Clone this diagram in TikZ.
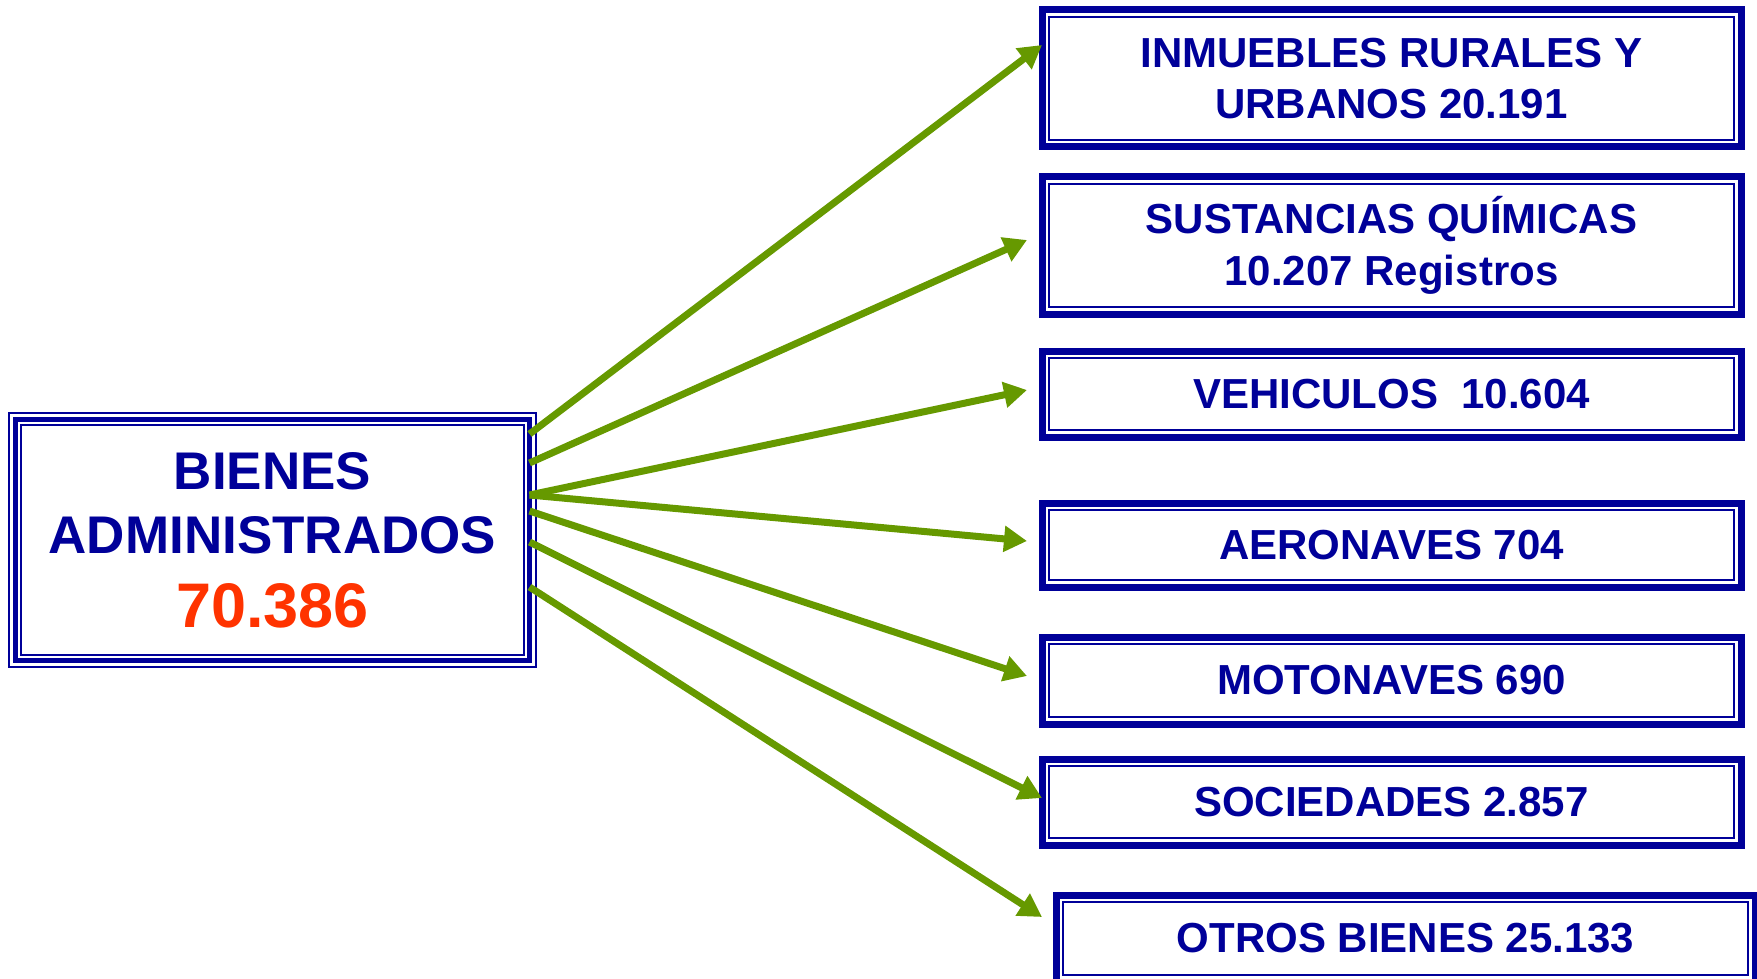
\documentclass[tikz,border=0pt]{standalone}
\usepackage{fontspec}
\setmainfont{Liberation Sans}
\usetikzlibrary{arrows.meta}
\definecolor{navy}{RGB}{0,0,153}
\definecolor{numred}{RGB}{255,51,0}
\definecolor{arrgreen}{RGB}{102,153,0}
\begin{document}
\begin{tikzpicture}[x=1pt,y=-1pt,
  rbox/.style={draw=navy, line width=7pt, outer sep=0pt, minimum width=699pt, inner sep=0pt, align=center, text=navy, font=\fontsize{42}{51.5}\selectfont\bfseries},
  thinl/.style={draw=navy, line width=2pt},
  lbox/.style={draw=navy, line width=5pt, outer sep=0pt, minimum width=514pt, minimum height=241pt, inner sep=0pt, align=center, text=navy, font=\fontsize{53}{64}\selectfont\bfseries},
  arr/.style={draw=arrgreen, line width=7pt, -{Triangle[length=23pt,width=25pt]}}
]
\useasboundingbox (0,0) rectangle (1757,979);

\node[lbox] (L) at (272.5,540) {BIENES\\ADMINISTRADOS\\[10pt]{\fontsize{63}{74}\selectfont\color{numred}70.386}};
\draw[thinl] ([shift={(-6.5,-6.5)}]L.north west) rectangle ([shift={(6.5,6.5)}]L.south east);
\draw[thinl] ([shift={(5.5,5.5)}]L.north west) rectangle ([shift={(-5.5,-5.5)}]L.south east);

\node[rbox, minimum height=137pt] (b1) at (1391.5,78.5) {INMUEBLES RURALES Y\\URBANOS 20.191};
\node[rbox, minimum height=137pt] (b2) at (1391.5,245.5) {SUSTANCIAS QUÍMICAS\\10.207 Registros};
\node[rbox, minimum height=86pt] (b3) at (1391.5,394) {VEHICULOS\ \ 10.604};
\node[rbox, minimum height=84pt] (b4) at (1391.5,545) {AERONAVES 704};
\node[rbox, minimum height=87pt] (b5) at (1391.5,680.5) {MOTONAVES 690};
\node[rbox, minimum height=86pt] (b6) at (1391.5,802) {SOCIEDADES 2.857};
\node[rbox, minimum height=87pt] (b7) at (1405.5,938.5) {OTROS BIENES 25.133};
\foreach \i in {1,...,7}{
  \draw[thinl] ([shift={(7,7)}]b\i.north west) rectangle ([shift={(-7,-7)}]b\i.south east);
}

\draw[arr] ([yshift=106pt]L.east) -- ([yshift=33.5pt]b1.west);
\draw[arr] ([yshift=77pt]L.east) -- ([xshift=-15pt,yshift=5.5pt]b2.west);
\draw[arr] ([yshift=45pt]L.east) -- ([xshift=-15pt,yshift=4pt]b3.west);
\draw[arr] ([yshift=45pt]L.east) -- ([xshift=-15pt,yshift=4pt]b4.west);
\draw[arr] ([yshift=29pt]L.east) -- ([xshift=-15pt,yshift=4.5pt]b5.west);
\draw[arr] ([yshift=-2pt]L.east) -- ([yshift=4pt]b6.west);
\draw[arr] ([yshift=-47pt]L.east) -- ([xshift=-14pt,yshift=21.5pt]b7.west);
\end{tikzpicture}
\end{document}
